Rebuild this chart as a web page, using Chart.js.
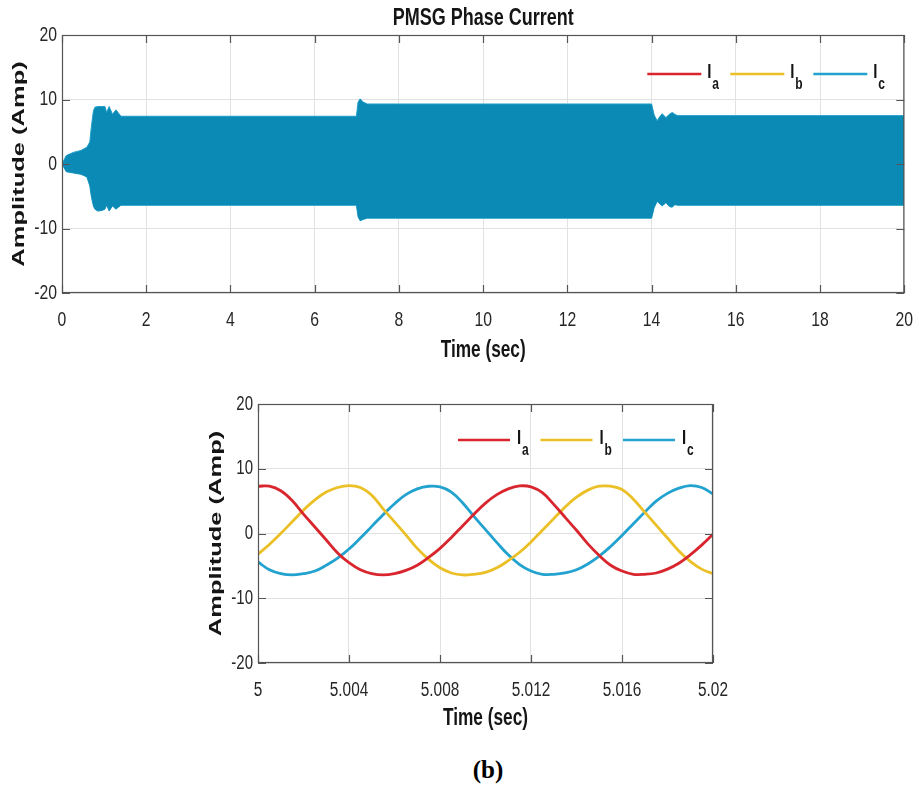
<!DOCTYPE html>
<html>
<head>
<meta charset="utf-8">
<script src="https://cdn.jsdelivr.net/npm/chart.js@4/dist/chart.umd.min.js"></script>
<style>
html,body{margin:0;padding:0;background:#fff;width:916px;height:787px;overflow:hidden;position:relative}
#c1{position:absolute;left:0;top:0}
#c2{position:absolute;left:190px;top:380px}
#cap{position:absolute;left:438px;top:755px;width:100px;text-align:center;font:bold 25px 'Liberation Serif','Times New Roman',serif;line-height:30px;color:#000}
</style>
</head>
<body>
<canvas id="c1" width="916" height="370"></canvas>
<canvas id="c2" width="545" height="360"></canvas>
<div id="cap">(b)</div>
<script>
// ---------- DATA ----------
const topTitle = 'PMSG Phase Current';
const xTitle = 'Time (sec)';
const yTitle = 'Amplitude (Amp)';
const phaseMain = ['I', 'I', 'I'];
const phaseSubs = ['a', 'b', 'c'];

// top panel: envelope of the dense three-phase current band (A)
const topTime  = [0, 0.1, 0.27, 0.45, 0.59, 0.66, 0.70, 0.745, 0.78, 0.85, 0.95, 1.02, 1.06, 1.12, 1.2, 1.28, 1.34, 1.4, 2, 4, 6, 6.99, 7.03, 7.08, 7.15, 7.25, 8, 10, 12, 14.0, 14.06, 14.13, 14.2, 14.25, 14.34, 14.42, 14.49, 14.55, 14.62, 16, 18, 20];
const topUpper = [0, 1.3, 1.8, 2.1, 2.6, 3.4, 5.9, 8.2, 8.8, 8.9, 8.9, 8.9, 8.0, 8.9, 7.7, 8.4, 7.9, 7.4, 7.4, 7.4, 7.4, 7.4, 9.6, 10.1, 9.6, 9.3, 9.3, 9.3, 9.3, 9.3, 7.6, 6.7, 7.4, 7.8, 7.2, 7.7, 8.0, 7.7, 7.5, 7.5, 7.5, 7.5];
const topLower = [0, -1.2, -1.4, -1.6, -2.0, -3.4, -5.2, -6.5, -7.0, -7.3, -7.2, -7.0, -6.4, -7.3, -6.5, -7.0, -6.7, -6.4, -6.4, -6.4, -6.4, -6.4, -8.2, -8.8, -8.6, -8.4, -8.4, -8.4, -8.4, -8.4, -6.8, -5.8, -6.2, -6.5, -6.0, -6.6, -6.7, -6.3, -6.4, -6.4, -6.4, -6.4];
const topXTicks = [0, 2, 4, 6, 8, 10, 12, 14, 16, 18, 20];
const topXLabels = ['0', '2', '4', '6', '8', '10', '12', '14', '16', '18', '20'];
const yTicks = [-20, -10, 0, 10, 20];
const yLabels = ['-20', '-10', '0', '10', '20'];

// bottom panel: zoomed phase currents (A)
const bottomTime = [5.0000,5.0005,5.0010,5.0015,5.0020,5.0025,5.0030,5.0035,5.0040,5.0045,5.0050,5.0055,5.0060,5.0065,5.0070,5.0075,5.0080,5.0085,5.0090,5.0095,5.0100,5.0105,5.0110,5.0115,5.0120,5.0125,5.0130,5.0135,5.0140,5.0145,5.0150,5.0155,5.0160,5.0165,5.0170,5.0175,5.0180,5.0185,5.0190,5.0195,5.0200];
const ia = [7.3,7.3,6.6,5.1,3.0,1.0,-1.0,-3.0,-4.5,-5.6,-6.2,-6.4,-6.2,-5.7,-4.9,-3.7,-2.3,-0.6,1.2,3.0,4.7,6.0,6.9,7.35,7.2,6.3,4.5,2.5,0.5,-1.6,-3.4,-4.9,-5.8,-6.3,-6.3,-6.1,-5.5,-4.6,-3.3,-1.8,-0.1];
const ib = [-3.2,-1.7,0.0,1.8,3.6,5.2,6.4,7.1,7.4,7.1,5.9,3.8,1.8,-0.2,-2.3,-4.0,-5.3,-6.1,-6.4,-6.3,-6.0,-5.3,-4.2,-2.9,-1.3,0.5,2.3,4.1,5.6,6.7,7.3,7.3,6.8,5.3,3.3,1.3,-0.7,-2.7,-4.3,-5.5,-6.2];
const ic = [-4.4,-5.6,-6.2,-6.4,-6.2,-5.8,-4.9,-3.8,-2.4,-0.7,1.1,2.9,4.6,6.0,6.9,7.3,7.2,6.4,4.7,2.6,0.6,-1.4,-3.3,-4.8,-5.8,-6.3,-6.3,-6.1,-5.6,-4.7,-3.5,-2.0,-0.3,1.5,3.3,5.0,6.2,7.0,7.4,7.1,6.1];
const bottomXTicks = [5.000, 5.004, 5.008, 5.012, 5.016, 5.020];
const bottomXLabels = ['5', '5.004', '5.008', '5.012', '5.016', '5.02'];

// ---------- STYLE ----------
const FONT = "'Liberation Sans',Arial,Helvetica,sans-serif";
const CONDENSE = 0.75;     // horizontal squeeze of upright text (tall, narrow look)
const ROT_STRETCH = 1.5;   // stretch of rotated text along its length
const phaseColors = ['#d9262e', '#ebbf26', '#22a2cf'];
const BAND_FILL = '#0a8ab4';
const BAND_EDGE = '#1c9dca';
const GRID = '#e2e2e2';
const BOX = '#555555';
const TICKC = '#262626';
const TITLEC = '#151515';

Chart.defaults.font.family = FONT;
Chart.defaults.color = TICKC;

function shapeText(canvas) {
  const ctx = canvas.getContext('2d');
  const orig = ctx.fillText;
  ctx.fillText = function (text, x, y, maxWidth) {
    const m = this.getTransform();
    const f = Math.abs(m.b) > 1e-6 ? ROT_STRETCH : CONDENSE;
    this.save();
    this.translate(x, y);
    this.scale(f, 1);
    if (maxWidth === undefined || maxWidth === null) orig.call(this, text, 0, 0);
    else orig.call(this, text, 0, 0, maxWidth / f);
    this.restore();
  };
}

const matlabBox = {
  id: 'matlabBox',
  afterDatasetsDraw(chart, args, o) {
    const {ctx, chartArea: a, scales: {x, y}} = chart;
    ctx.save();
    ctx.strokeStyle = o.color;
    ctx.lineWidth = o.width;
    ctx.beginPath();
    x.ticks.forEach(t => {
      const px = Math.round(x.getPixelForValue(t.value)) + 0.5;
      ctx.moveTo(px, a.bottom); ctx.lineTo(px, a.bottom - o.len);
      ctx.moveTo(px, a.top); ctx.lineTo(px, a.top + o.len);
    });
    y.ticks.forEach(t => {
      const py = Math.round(y.getPixelForValue(t.value)) + 0.5;
      ctx.moveTo(a.left, py); ctx.lineTo(a.left + o.len, py);
      ctx.moveTo(a.right, py); ctx.lineTo(a.right - o.len, py);
    });
    ctx.stroke();
    ctx.strokeRect(a.left + 0.5, a.top + 0.5, a.width - 1, a.height - 1);
    ctx.restore();
  }
};

const subLegend = {
  id: 'subLegend',
  afterDraw(chart, args, o) {
    const {ctx, chartArea: a} = chart;
    let x = a.right - o.fromRight;
    const y = a.top + o.fromTop;
    ctx.save();
    o.items.forEach(it => {
      ctx.strokeStyle = it.color;
      ctx.lineWidth = o.lineWidth;
      ctx.beginPath(); ctx.moveTo(x, y); ctx.lineTo(x + o.lineLen, y); ctx.stroke();
      ctx.fillStyle = TITLEC;
      ctx.textAlign = 'left';
      ctx.textBaseline = 'alphabetic';
      ctx.font = 'bold ' + o.size + 'px ' + FONT;
      const tx = x + o.lineLen + o.gap;
      ctx.fillText(it.main, tx, y + o.mainDy);
      const w = ctx.measureText(it.main).width * CONDENSE;
      ctx.font = 'bold ' + o.subSize + 'px ' + FONT;
      ctx.fillText(it.sub, tx + w + 0.8, y + o.subDy);
      x += o.pitch;
    });
    ctx.restore();
  }
};

const legendItems = phaseSubs.map((s, i) => ({main: phaseMain[i], sub: s, color: phaseColors[i]}));

function axisX(min, max, ticks, labels, size, pb) {
  return {
    type: 'linear', min, max,
    afterBuildTicks: s => { s.ticks = ticks.map(v => ({value: v})); },
    afterFit: s => { s.height = 77; },
    ticks: {autoSkip: false, maxRotation: 0, padding: 0, color: TICKC, font: {size}, callback: (v, i) => labels[i]},
    grid: {color: GRID, lineWidth: 1, drawTicks: true, tickLength: 15, tickColor: 'rgba(0,0,0,0)'},
    border: {display: false},
    title: {display: true, text: xTitle, color: TITLEC, font: {size: 23, weight: 'bold', lineHeight: 1.2}, padding: {top: 0, bottom: pb}}
  };
}
function axisY(width, size, tpad) {
  return {
    min: -20, max: 20,
    afterBuildTicks: s => { s.ticks = yTicks.map(v => ({value: v})); },
    afterFit: s => { s.width = width; },
    ticks: {autoSkip: false, padding: 5, color: TICKC, font: {size}, callback: (v, i) => yLabels[i]},
    grid: {color: GRID, lineWidth: 1, drawTicks: false},
    border: {display: false},
    title: {display: true, text: yTitle, color: TITLEC, font: {size: 17, weight: 'bold', lineHeight: 1.2}, padding: {top: tpad, bottom: 0}}
  };
}

const c1 = document.getElementById('c1');
const c2 = document.getElementById('c2');
shapeText(c1);
shapeText(c2);

// ---------- TOP CHART ----------
new Chart(c1, {
  type: 'line',
  data: {
    datasets: [
      {label: 'upper envelope', data: topTime.map((t, i) => ({x: t, y: topUpper[i]})),
       borderColor: BAND_EDGE, backgroundColor: BAND_FILL, borderWidth: 1, pointRadius: 0, fill: '+1', tension: 0},
      {label: 'lower envelope', data: topTime.map((t, i) => ({x: t, y: topLower[i]})),
       borderColor: BAND_EDGE, backgroundColor: BAND_FILL, borderWidth: 1, pointRadius: 0, fill: false, tension: 0}
    ]
  },
  options: {
    responsive: false, animation: false, devicePixelRatio: 1,
    layout: {padding: {left: 0, right: 11, top: 0, bottom: 0}},
    plugins: {
      legend: {display: false}, tooltip: {enabled: false},
      title: {display: true, fullSize: false, text: topTitle, color: TITLEC, font: {size: 24, weight: 'bold', lineHeight: 1}, padding: {top: 6, bottom: 5}},
      matlabBox: {color: BOX, width: 1.2, len: 8},
      subLegend: {items: legendItems, fromRight: 257, fromTop: 39, lineLen: 54, gap: 6, pitch: 83, lineWidth: 2.5, size: 20, subSize: 16, mainDy: 4, subDy: 15}
    },
    scales: {x: axisX(0, 20, topXTicks, topXLabels, 21, 5.5), y: axisY(62, 21, 9.3)}
  },
  plugins: [matlabBox, subLegend]
});

// ---------- BOTTOM CHART ----------
const phaseData = [ia, ib, ic];
new Chart(c2, {
  type: 'line',
  data: {
    datasets: phaseData.map((arr, k) => ({
      label: phaseMain[k] + phaseSubs[k],
      data: bottomTime.map((t, i) => ({x: t, y: arr[i]})),
      borderColor: phaseColors[k], borderWidth: 2.8, pointRadius: 0, fill: false,
      tension: 0.4
    }))
  },
  options: {
    responsive: false, animation: false, devicePixelRatio: 1,
    layout: {padding: {left: 0, right: 22, top: 24, bottom: 0}},
    plugins: {
      legend: {display: false}, tooltip: {enabled: false},
      matlabBox: {color: BOX, width: 1.2, len: 8},
      subLegend: {items: legendItems, fromRight: 255, fromTop: 36, lineLen: 52, gap: 7, pitch: 82.5, lineWidth: 2.6, size: 20, subSize: 16, mainDy: 4, subDy: 15}
    },
    scales: {x: axisX(5.0, 5.02, bottomXTicks, bottomXLabels, 20.5, 7.7), y: axisY(68, 20, 16.3)}
  },
  plugins: [matlabBox, subLegend]
});
</script>
</body>
</html>
